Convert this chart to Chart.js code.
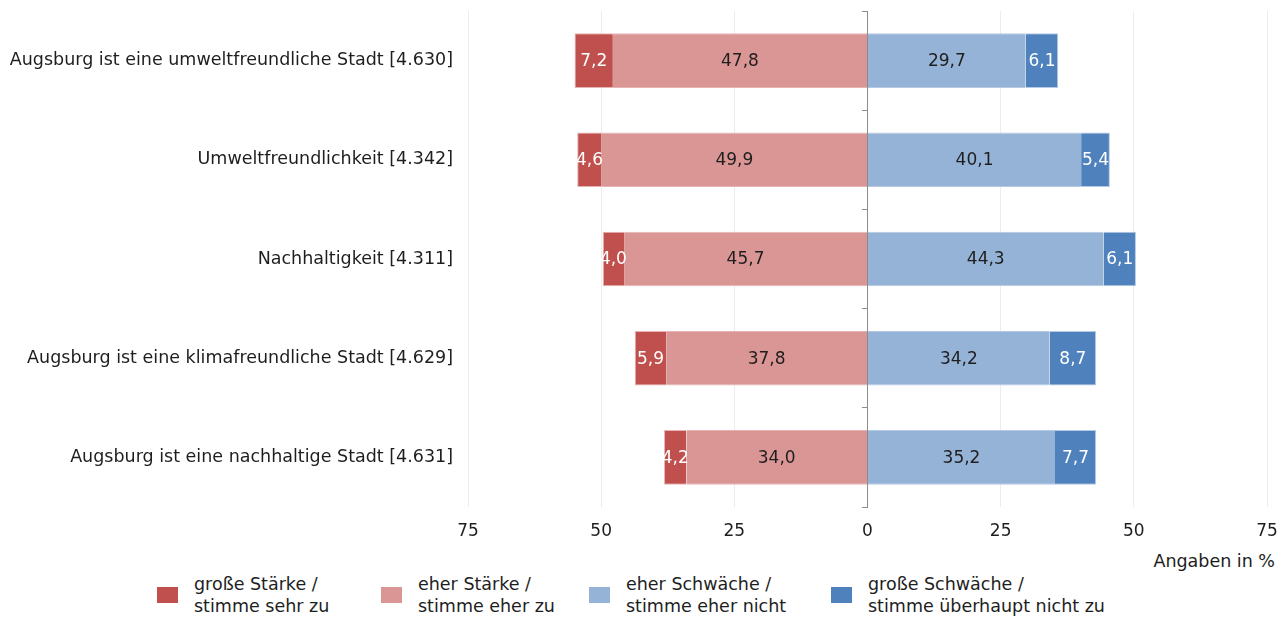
<!DOCTYPE html>
<html lang="de">
<head>
<meta charset="utf-8">
<title>Augsburg – Stärken und Schwächen</title>
<script src="https://cdn.jsdelivr.net/npm/chart.js@4/dist/chart.umd.min.js"></script>
<style>
  body { margin: 0; background: #fff; font-family: "DejaVu Sans", sans-serif; color: #1e1e1e; }
  #wrap { position: relative; width: 1285px; height: 619px; overflow: hidden; }
  #chartBox { position: absolute; left: 0; top: 0; width: 1285px; height: 548px; }
  #unit { position: absolute; right: 10px; top: 551px; font-size: 17.5px; line-height: 20px; }
  .item { position: absolute; top: 573px; display: flex; align-items: center; }
  .swatch { width: 21px; height: 16px; margin-right: 16px; }
  .item span { font-size: 17.5px; line-height: 22px; white-space: nowrap; }
</style>
</head>
<body>
<div id="wrap">
  <div id="chartBox"><canvas id="strengthChart"></canvas></div>
  <div id="unit">Angaben in %</div>
  <div id="legend"></div>
</div>
<script>
// Kategorien mit Fallzahl
const categories = [
    'Augsburg ist eine umweltfreundliche Stadt [4.630]',
    'Umweltfreundlichkeit [4.342]',
    'Nachhaltigkeit [4.311]',
    'Augsburg ist eine klimafreundliche Stadt [4.629]',
    'Augsburg ist eine nachhaltige Stadt [4.631]'
];

// Anteile in Prozent
const grosseStaerke = [7.2, 4.6, 4.0, 5.9, 4.2];
const eherStaerke = [47.8, 49.9, 45.7, 37.8, 34.0];
const eherSchwaeche = [29.7, 40.1, 44.3, 34.2, 35.2];
const grosseSchwaeche = [6.1, 5.4, 6.1, 8.7, 7.7];

const xTicks = [-75, -50, -25, 0, 25, 50, 75];

const legendTexts = [
    ['große Stärke /', 'stimme sehr zu'],
    ['eher Stärke /', 'stimme eher zu'],
    ['eher Schwäche /', 'stimme eher nicht'],
    ['große Schwäche /', 'stimme überhaupt nicht zu']
];

const colors = ['#c0504d', '#da9694', '#95b3d7', '#4f81bd'];
const legendLeft = [157, 381, 589, 831];

Chart.defaults.font.family = '"DejaVu Sans", sans-serif';
Chart.defaults.font.size = 17;
Chart.defaults.color = '#1e1e1e';

const fmt = v => Math.abs(v).toFixed(1).replace('.', ',');

// Werte mittig in die Balkensegmente schreiben
const barLabels = {
    id: 'barLabels',
    afterDatasetsDraw(chart) {
        const ctx = chart.ctx;
        ctx.save();
        ctx.font = '17px "DejaVu Sans", sans-serif';
        ctx.textAlign = 'center';
        ctx.textBaseline = 'middle';
        chart.data.datasets.forEach((ds, i) => {
            chart.getDatasetMeta(i).data.forEach((bar, j) => {
                ctx.fillStyle = ds.labelColor;
                ctx.fillText(fmt(ds.data[j]), (bar.x + bar.base) / 2, bar.y + 1);
            });
        });
        ctx.restore();
    }
};

const ctxStrength = document.getElementById('strengthChart').getContext('2d');
const strengthChart = new Chart(ctxStrength, {
    type: 'bar',
    data: {
        labels: categories,
        datasets: [{
                // negative Seite: innen "eher", außen "groß"
                label: legendTexts[1],
                data: eherStaerke.map(v => -v),
                backgroundColor: colors[1],
                borderColor: '#e6b3b2',
                borderWidth: { top: 1, bottom: 1, left: 0, right: 0 },
                labelColor: '#1e1e1e',
                legendIndex: 1
            }, {
                label: legendTexts[0],
                data: grosseStaerke.map(v => -v),
                backgroundColor: colors[0],
                borderColor: '#e6b3b2',
                borderWidth: { top: 1, bottom: 1, left: 1, right: 0 },
                labelColor: '#ffffff',
                legendIndex: 0
            }, {
                label: legendTexts[2],
                data: eherSchwaeche,
                backgroundColor: colors[2],
                borderColor: '#b4c9e3',
                borderWidth: { top: 1, bottom: 1, left: 0, right: 0 },
                labelColor: '#1e1e1e',
                legendIndex: 2
            }, {
                label: legendTexts[3],
                data: grosseSchwaeche,
                backgroundColor: colors[3],
                borderColor: '#b4c9e3',
                borderWidth: { top: 1, bottom: 1, left: 0, right: 1 },
                labelColor: '#ffffff',
                legendIndex: 3
            }]
    },
    options: {
        indexAxis: 'y',
        responsive: true,
        maintainAspectRatio: false,
        animation: false,
        layout: { padding: { top: 11, right: 18, bottom: 6, left: 0 } },
        datasets: {
            bar: {
                categoryPercentage: 1,
                barPercentage: 0.55,
                borderSkipped: false
            }
        },
        scales: {
            x: {
                stacked: true,
                min: -75,
                max: 75,
                afterBuildTicks: scale => { scale.ticks = xTicks.map(v => ({ value: v })); },
                afterFit: scale => {
                    scale.height = 35;
                    scale.paddingLeft = 0;
                    scale.paddingRight = 0;
                },
                ticks: {
                    padding: 14,
                    callback: v => Math.abs(v)
                },
                grid: {
                    drawTicks: false,
                    color: ctx => ctx.tick && ctx.tick.value === 0 ? 'rgba(0,0,0,0)' : '#ececec'
                },
                border: { display: false }
            },
            y: {
                stacked: true,
                position: 'left',
                afterFit: scale => {
                    scale.width = 468;
                    // Kategorien liegen mittig im Band, kein Zusatzrand oben/unten
                    scale.paddingTop = 0;
                    scale.paddingBottom = 0;
                },
                ticks: { padding: 15, font: { size: 17.5 } },
                grid: { display: false, drawTicks: false },
                border: { display: false }
            },
            // Nulllinie mit kurzen Trennmarken zwischen den Kategorien
            zero: {
                type: 'category',
                axis: 'y',
                position: { x: 0 },
                ticks: { display: false },
                grid: {
                    offset: true,
                    drawOnChartArea: false,
                    drawTicks: true,
                    tickLength: 5,
                    color: '#8c8c8c'
                },
                border: { color: '#8c8c8c', width: 1 }
            }
        },
        plugins: {
            legend: { display: false },
            tooltip: { enabled: false }
        }
    },
    plugins: [barLabels]
});

// Legende unter dem Diagramm
const legendBox = document.getElementById('legend');
strengthChart.data.datasets
    .slice()
    .sort((a, b) => a.legendIndex - b.legendIndex)
    .forEach((ds, i) => {
        const item = document.createElement('div');
        item.className = 'item';
        item.style.left = legendLeft[i] + 'px';
        const sw = document.createElement('div');
        sw.className = 'swatch';
        sw.style.background = ds.backgroundColor;
        const txt = document.createElement('span');
        txt.innerHTML = ds.label.join('<br>');
        item.appendChild(sw);
        item.appendChild(txt);
        legendBox.appendChild(item);
    });
</script>
</body>
</html>
